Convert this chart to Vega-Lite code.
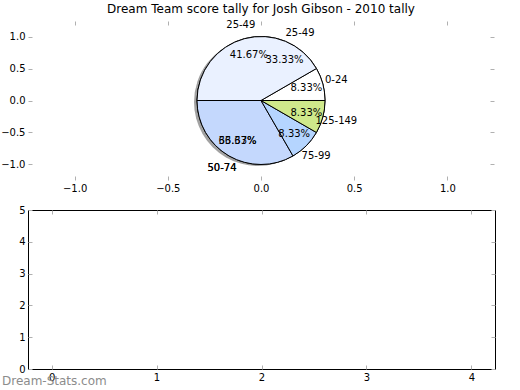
{
  "$schema": "https://vega.github.io/schema/vega-lite/v6.json",
  "padding": {"left": 0, "top": 3, "right": 0, "bottom": 0},
  "spacing": 11,
  "background": "white",
  "config": {
    "font": "DejaVu Sans",
    "view": {"stroke": null},
    "axis": {
      "labelFont": "DejaVu Sans",
      "labelFontSize": 10,
      "labelColor": "#000",
      "tickColor": "#b0b0b0",
      "tickSize": -4,
      "tickWidth": 1,
      "labelPadding": 7,
      "domain": false,
      "grid": false,
      "title": null
    },
    "title": {"font": "DejaVu Sans", "fontWeight": "normal", "color": "#000"}
  },
  "datasets": {
    "pieA": [
      {"i": 1, "range": "0-24", "count": 1, "share": 0.083333},
      {"i": 2, "range": "25-49", "count": 5, "share": 0.416667},
      {"i": 3, "range": "50-74", "count": 4, "share": 0.333333},
      {"i": 4, "range": "75-99", "count": 1, "share": 0.083333},
      {"i": 5, "range": "125-149", "count": 1, "share": 0.083333}
    ],
    "pieB": [
      {"i": 1, "range": "25-49", "count": 4, "share": 0.333333},
      {"i": 2, "range": "50-74", "count": 8, "share": 0.666667}
    ],
    "empty": []
  },
  "vconcat": [
    {
      "width": 466,
      "height": 159,
      "title": {"text": "Dream Team score tally for Josh Gibson - 2010 tally", "fontSize": 12, "offset": 4, "frame": "group"},
      "layer": [
        {
          "data": {"name": "pieA"},
          "mark": {"type": "arc", "outerRadius": 64, "fill": "#555555", "opacity": 0.55, "xOffset": -3, "yOffset": 1.5},
          "encoding": {
            "theta": {"field": "count", "type": "quantitative", "stack": true, "scale": {"range": [1.5708, -4.7124]}},
            "order": {"field": "i", "type": "ordinal"},
            "x": {"datum": 0, "type": "quantitative", "scale": {"domain": [-1.25, 1.25], "nice": false, "zero": false}, "axis": {"orient": "bottom", "values": [-1, -0.5, 0, 0.5, 1], "format": ".1f"}},
            "y": {"datum": 0, "type": "quantitative", "scale": {"domain": [-1.25, 1.25], "nice": false, "zero": false}, "axis": {"orient": "left", "values": [-1, -0.5, 0, 0.5, 1], "format": ".1f"}}
          }
        },
        {
          "data": {"name": "pieB"},
          "mark": {"type": "arc", "outerRadius": 64, "stroke": "#000", "strokeWidth": 1},
          "encoding": {
            "theta": {"field": "count", "type": "quantitative", "stack": true},
            "order": {"field": "i", "type": "ordinal"},
            "color": {"field": "range", "type": "nominal", "legend": null, "scale": {"domain": ["0-24", "25-49", "50-74", "75-99", "125-149"], "range": ["#ffffff", "#eaf1ff", "#c4d8fd", "#b5d5ff", "#cfe98b"]}},
            "x": {"datum": 0, "type": "quantitative", "axis": null},
            "y": {"datum": 0, "type": "quantitative", "axis": null}
          }
        },
        {
          "data": {"name": "pieA"},
          "mark": {"type": "arc", "outerRadius": 64, "stroke": "#000", "strokeWidth": 1},
          "encoding": {
            "theta": {"field": "count", "type": "quantitative", "stack": true},
            "order": {"field": "i", "type": "ordinal"},
            "color": {"field": "range", "type": "nominal", "legend": null},
            "x": {"datum": 0, "type": "quantitative", "axis": null},
            "y": {"datum": 0, "type": "quantitative", "axis": null}
          }
        },
        {
          "data": {"name": "pieA"},
          "mark": {"type": "text", "radius": 78, "fontSize": 10, "color": "#000"},
          "encoding": {
            "theta": {"field": "count", "type": "quantitative", "stack": true},
            "order": {"field": "i", "type": "ordinal"},
            "text": {"field": "range", "type": "nominal"},
            "x": {"datum": 0, "type": "quantitative", "axis": {"orient": "top", "labels": false, "values": [-1, -0.5, 0, 0.5, 1]}},
            "y": {"datum": 0, "type": "quantitative", "axis": {"orient": "right", "labels": false, "values": [-1, -0.5, 0, 0.5, 1]}}
          }
        },
        {
          "data": {"name": "pieA"},
          "mark": {"type": "text", "radius": 47, "fontSize": 10, "color": "#000"},
          "encoding": {
            "theta": {"field": "count", "type": "quantitative", "stack": true},
            "order": {"field": "i", "type": "ordinal"},
            "text": {"field": "share", "type": "quantitative", "format": ".2%"},
            "x": {"datum": 0, "type": "quantitative", "axis": null},
            "y": {"datum": 0, "type": "quantitative", "axis": null}
          }
        },
        {
          "data": {"name": "pieB"},
          "mark": {"type": "text", "radius": 78, "fontSize": 10, "color": "#000"},
          "encoding": {
            "theta": {"field": "count", "type": "quantitative", "stack": true},
            "order": {"field": "i", "type": "ordinal"},
            "text": {"field": "range", "type": "nominal"},
            "x": {"datum": 0, "type": "quantitative", "axis": null},
            "y": {"datum": 0, "type": "quantitative", "axis": null}
          }
        },
        {
          "data": {"name": "pieB"},
          "mark": {"type": "text", "radius": 47, "fontSize": 10, "color": "#000"},
          "encoding": {
            "theta": {"field": "count", "type": "quantitative", "stack": true},
            "order": {"field": "i", "type": "ordinal"},
            "text": {"field": "share", "type": "quantitative", "format": ".2%"},
            "x": {"datum": 0, "type": "quantitative", "axis": null},
            "y": {"datum": 0, "type": "quantitative", "axis": null}
          }
        }
      ],
      "resolve": {"axis": {"x": "independent", "y": "independent"}}
    },
    {
      "width": 467,
      "height": 159,
      "data": {"name": "empty"},
      "view": {"stroke": "#000", "strokeWidth": 1},
      "title": {"text": "Dream-Stats.com", "orient": "bottom", "anchor": "start", "frame": "group", "dx": -26, "offset": -6, "fontSize": 12, "color": "#8c8c8c"},
      "layer": [
        {
          "mark": "point",
          "encoding": {
            "x": {"field": "v", "type": "quantitative", "scale": {"domain": [-0.225, 4.225], "nice": false, "zero": false}, "axis": {"orient": "bottom", "values": [0, 1, 2, 3, 4], "format": "d"}},
            "y": {"field": "w", "type": "quantitative", "scale": {"domain": [0, 5], "nice": false}, "axis": {"orient": "left", "values": [0, 1, 2, 3, 4, 5], "format": "d"}}
          }
        },
        {
          "mark": "point",
          "encoding": {
            "x": {"field": "v", "type": "quantitative", "axis": {"orient": "top", "labels": false, "values": [0, 1, 2, 3, 4]}},
            "y": {"field": "w", "type": "quantitative", "axis": {"orient": "right", "labels": false, "values": [0, 1, 2, 3, 4, 5]}}
          }
        }
      ],
      "resolve": {"axis": {"x": "independent", "y": "independent"}}
    }
  ]
}
